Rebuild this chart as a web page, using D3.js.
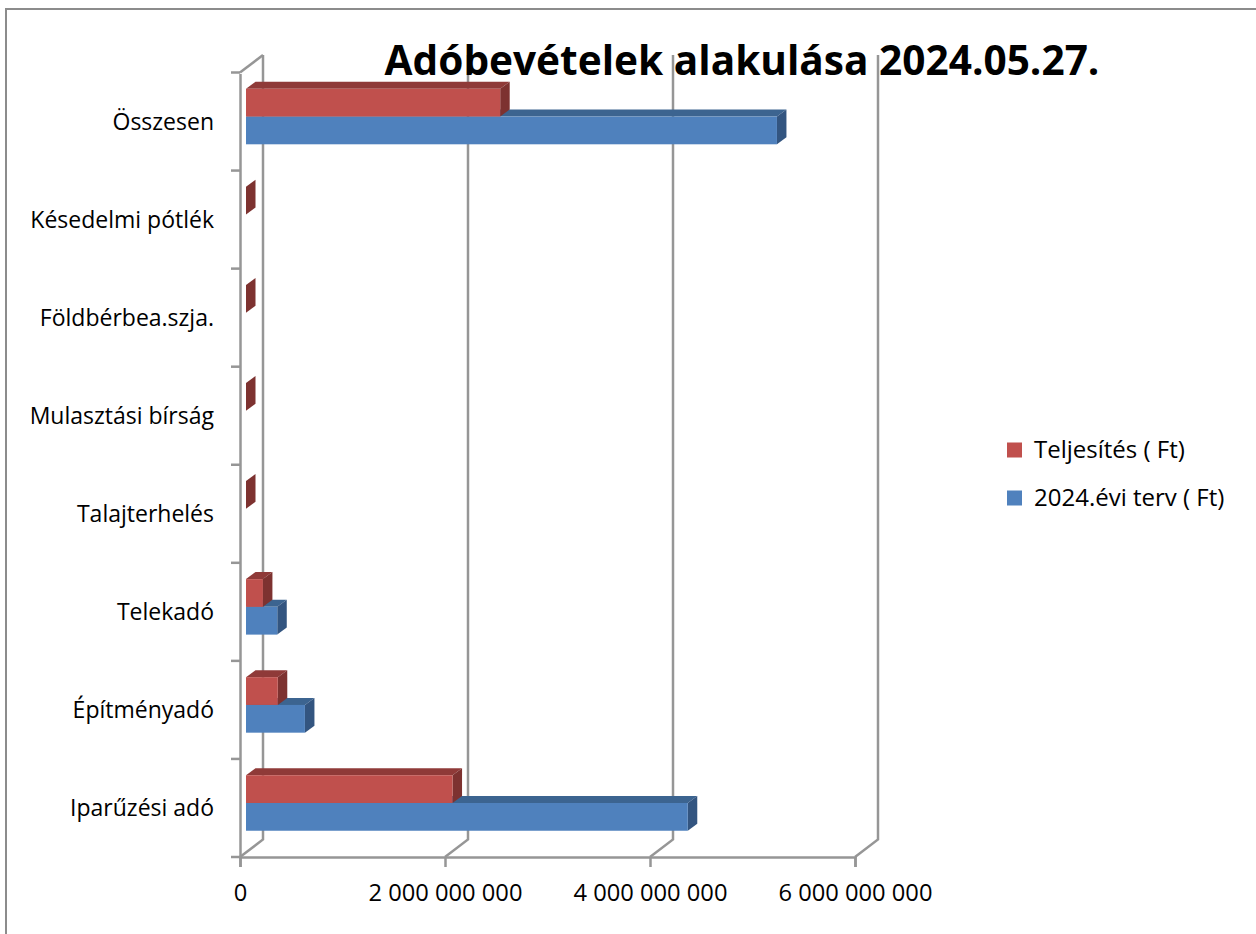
<!DOCTYPE html>
<html>
<head>
<meta charset="utf-8">
<script src="https://cdn.jsdelivr.net/npm/d3@7"></script>
<style>
  html, body { margin: 0; padding: 0; background: #fff; }
  text { fill: #000; font-family: 'Open Sans', sans-serif; }
  .axis text { font-size: 23px; }
  .x-axis text { font-size: 23.7px; }
  .axis .domain, .axis line { stroke: #969696; stroke-width: 2.5; }
</style>
</head>
<body>
<div id="chart"></div>
<script>
// Data (forints); null means the bar is not there at all
const categories = ['Összesen', 'Késedelmi pótlék', 'Földbérbea.szja.', 'Mulasztási bírság',
  'Talajterhelés', 'Telekadó', 'Építményadó', 'Iparűzési adó'];
const teljesites = [2480000000, 0, 0, 0, 0, 165000000, 310000000, 2015000000];
const terv = [5180000000, null, null, null, null, 305000000, 575000000, 4310000000];
const xTicks = [0, 2000000000, 4000000000, 6000000000];
const seriesNames = ['Teljesítés ( Ft)', '2024.évi terv ( Ft)'];

const title = 'Adóbevételek alakulása 2024.05.27.';

const width = 1256;
const height = 934;
const margin = { top: 72.5, right: 401, bottom: 77, left: 240 };

// how far the back wall sits from the front axes
const wall = { dx: 23, dy: -17.5 };
// how deep each bar is, and where the bars start inside the floor
const depth = { dx: 9.5, dy: -7, inset: 6 };

const colors = {
  teljesites: { front: '#c0504d', top: '#8f3a38', side: '#7d3230' },
  terv: { front: '#4f81bd', top: '#3c6490', side: '#335580' },
};

const svg = d3.select('#chart').append('svg')
  .attr('width', width)
  .attr('height', height);

// outer frame of the picture, only top and left are in view
svg.append('path')
  .attr('d', d3.line()([[6, height], [6, 9], [width, 9]]))
  .attr('fill', 'none')
  .attr('stroke', '#8c8c8c')
  .attr('stroke-width', 2);

const xScale = d3.scaleLinear()
  .domain([0, 6000000000])
  .range([margin.left, width - margin.right]);

const yScale = d3.scaleBand()
  .domain(categories)
  .range([margin.top, height - margin.bottom]);

// the two series share the middle of each band
const seriesScale = d3.scaleBand()
  .domain(['teljesites', 'terv'])
  .range([16.3, 71.8]);

const yTop = yScale.range()[0];
const yBottom = yScale.range()[1];

// back wall and floor lines
const walls = svg.append('g')
  .attr('fill', 'none')
  .attr('stroke', '#969696')
  .attr('stroke-width', 2.5);

walls.selectAll('.grid')
  .data(xTicks)
  .join('path')
  .attr('class', 'grid')
  .attr('d', (d) => d3.line()([
    [xScale(d), yBottom],
    [xScale(d) + wall.dx, yBottom + wall.dy],
    [xScale(d) + wall.dx, yTop + wall.dy],
  ]));

walls.append('path')
  .attr('d', d3.line()([[xScale(0), yTop], [xScale(0) + wall.dx, yTop + wall.dy]]));

// axes
const xAxis = d3.axisBottom(xScale)
  .tickValues(xTicks)
  .tickSizeOuter(0)
  .tickSize(10)
  .tickPadding(17)
  .tickFormat((d) => d3.format(',')(d).replace(/,/g, ' '));

const yAxis = d3.axisLeft(yScale)
  .tickSize(0)
  .tickPadding(26);

svg.append('g')
  .attr('class', 'axis x-axis')
  .attr('transform', `translate(0,${yBottom})`)
  .call(xAxis);

const yAxisG = svg.append('g')
  .attr('class', 'axis y-axis')
  .attr('transform', `translate(${xScale(0)},1)`)
  .call(yAxis);

// category ticks sit on the band edges, not in the middle
yAxisG.selectAll('.edge')
  .data(d3.range(categories.length + 1))
  .join('line')
  .attr('class', 'edge')
  .attr('x1', -9)
  .attr('x2', 0)
  .attr('y1', (i) => yTop + i * yScale.step() - 1)
  .attr('y2', (i) => yTop + i * yScale.step() - 1);

// bars: flatten the arrays, blue goes first so that red covers its top
const bars = [];
categories.forEach((c, i) => {
  if (terv[i] !== null) bars.push({ category: c, key: 'terv', value: terv[i] });
  bars.push({ category: c, key: 'teljesites', value: teljesites[i] });
});

const barG = svg.selectAll('.bar')
  .data(bars)
  .join('g')
  .attr('class', 'bar');

const barBox = (d) => {
  const x0 = xScale(0) + depth.inset;
  const x1 = xScale(d.value) + depth.inset;
  const y0 = yScale(d.category) + seriesScale(d.key);
  return { x0, x1, y0, y1: y0 + seriesScale.bandwidth() };
};

// top face
barG.append('path')
  .attr('fill', (d) => colors[d.key].top)
  .attr('d', (d) => {
    const b = barBox(d);
    return d3.line()([[b.x0, b.y0], [b.x0 + depth.dx, b.y0 + depth.dy],
      [b.x1 + depth.dx, b.y0 + depth.dy], [b.x1, b.y0]]);
  });

// side face
barG.append('path')
  .attr('fill', (d) => colors[d.key].side)
  .attr('d', (d) => {
    const b = barBox(d);
    return d3.line()([[b.x1, b.y0], [b.x1 + depth.dx, b.y0 + depth.dy],
      [b.x1 + depth.dx, b.y1 + depth.dy], [b.x1, b.y1]]);
  });

// front face
barG.append('rect')
  .attr('fill', (d) => colors[d.key].front)
  .attr('x', (d) => barBox(d).x0)
  .attr('y', (d) => barBox(d).y0)
  .attr('width', (d) => barBox(d).x1 - barBox(d).x0)
  .attr('height', seriesScale.bandwidth());

// legend
const legendScale = d3.scalePoint()
  .domain(seriesNames)
  .range([450, 498]);

const legend = svg.selectAll('.legend')
  .data(seriesNames)
  .join('g')
  .attr('class', 'legend')
  .attr('transform', (d) => `translate(1007,${legendScale(d)})`);

legend.append('rect')
  .attr('y', -7.5)
  .attr('width', 15)
  .attr('height', 15)
  .attr('fill', (d, i) => (i === 0 ? colors.teljesites.front : colors.terv.front));

legend.append('text')
  .attr('x', 27)
  .attr('dy', '0.34em')
  .style('font-size', '24px')
  .text((d) => d);

// title goes over the wall lines
svg.append('text')
  .attr('x', 742)
  .attr('y', 75)
  .attr('text-anchor', 'middle')
  .style('font-size', '40.6px')
  .style('font-weight', 700)
  .text(title);
</script>
</body>
</html>
